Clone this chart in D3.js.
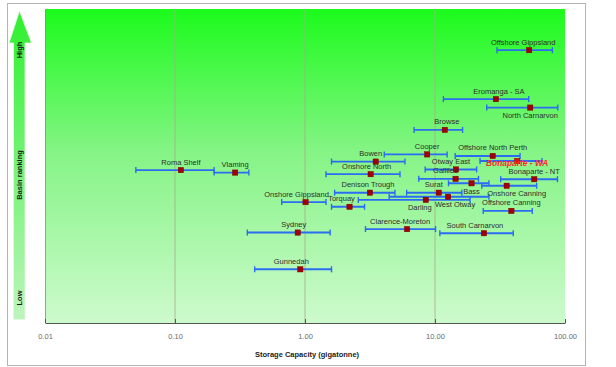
<!DOCTYPE html>
<html>
<head>
<meta charset="utf-8">
<script src="https://cdn.jsdelivr.net/npm/d3@7"></script>
<style>
  html, body { margin: 0; padding: 0; background: #fff; }
  svg { display: block; font-family: "Liberation Sans", Arial, sans-serif; }
</style>
</head>
<body>
<svg id="chart" width="616" height="367"></svg>
<script>
// Basin storage capacity estimates (gigatonnes) with low/high range, and ranking score
const basins = [
  "Offshore Gippsland", "Eromanga - SA", "North Carnarvon", "Browse", "Cooper",
  "Offshore North Perth", "Bonaparte - WA", "Bowen", "Onshore North", "Otway East",
  "Gallilee", "Bonaparte - NT", "Bass", "Onshore Canning", "Denison Trough",
  "Surat", "West Otway", "Darling", "Torquay", "Offshore Canning",
  "Onshore Gippsland", "Roma Shelf", "Vlaming", "Clarence-Moreton", "South Carnarvon",
  "Sydney", "Gunnedah"
];
const capacity = [
  53, 29.4, 54, 11.9, 8.7,
  27.8, 42.9, 3.5, 3.2, 14.5,
  14.4, 58, 19.1, 35.6, 3.16,
  10.7, 12.6, 8.5, 2.2, 38.7,
  1.01, 0.111, 0.29, 6.1, 23.8,
  0.88, 0.92
];
const capacityLow = [
  30, 11.6, 25, 6.9, 4.07,
  14.3, 22.2, 1.6, 1.45, 8.4,
  7.5, 32, 12.7, 22.9, 1.69,
  6.05, 4.44, 2.57, 1.6, 23.5,
  0.662, 0.05, 0.2, 2.92, 10.9,
  0.36, 0.41
];
const capacityHigh = [
  80, 52.6, 88, 16.3, 12.4,
  45.1, 66.5, 5.87, 5.38, 20.9,
  21.6, 87.5, 26, 60.5, 4.92,
  16.1, 26, 18.6, 2.87, 56,
  1.45, 0.2, 0.37, 10.1, 40,
  1.56, 1.6
];
const ranking = [
  86.9, 71.3, 68.6, 61.5, 53.7,
  53.2, 51.6, 51.4, 47.4, 48.9,
  45.9, 45.8, 44.5, 43.7, 41.5,
  41.5, 40.2, 39.2, 37.0, 35.7,
  38.5, 48.7, 47.9, 29.9, 28.6,
  28.8, 17.1
];
const tickValues = [0.01, 0.1, 1, 10, 100];
const tickLabels = ["0.01", "0.10", "1.00", "10.00", "100.00"];
const xTitle = "Storage Capacity (gigatonne)";
const rankLabels = ["High", "Basin ranking", "Low"];
const highlighted = "Bonaparte - WA";

const rows = basins.map((name, i) => ({
  name, value: capacity[i], low: capacityLow[i], high: capacityHigh[i], rank: ranking[i]
}));

const svg = d3.select("#chart");
const plot = { left: 45, right: 565, top: 9, bottom: 323 };

const x = d3.scaleLog().domain([0.01, 100]).range([plot.left, plot.right]);
const y = d3.scaleLinear().domain([0, 100]).range([plot.bottom, plot.top]);

const defs = svg.append("defs");
const bg = defs.append("linearGradient").attr("id", "bgGrad")
  .attr("x1", 0).attr("y1", 0).attr("x2", 0).attr("y2", 1);
bg.append("stop").attr("offset", "0%").attr("stop-color", "#1cfb1c");
bg.append("stop").attr("offset", "45%").attr("stop-color", "#84f484");
bg.append("stop").attr("offset", "100%").attr("stop-color", "#cdfacd");

const ag = defs.append("linearGradient").attr("id", "arrowGrad")
  .attr("x1", 0).attr("y1", 0).attr("x2", 0).attr("y2", 1);
ag.append("stop").attr("offset", "0%").attr("stop-color", "#2ef02e");
ag.append("stop").attr("offset", "100%").attr("stop-color", "#bdf5bd");

// outer frame
svg.append("rect").attr("x", 7.5).attr("y", 3.5).attr("width", 578).attr("height", 362)
  .attr("fill", "#fff").attr("stroke", "#b4b4b4").attr("stroke-width", 1);

// plot background
svg.append("rect")
  .attr("x", plot.left).attr("y", plot.top)
  .attr("width", plot.right - plot.left).attr("height", plot.bottom - plot.top)
  .attr("fill", "url(#bgGrad)");

// ranking arrow on the left
const ax = 19.5;
svg.append("path")
  .attr("d", `M${ax},11 L${ax + 12},43 L${ax + 5.5},43 L${ax + 5.5},319.5 L${ax - 6},319.5 L${ax - 6},43 L${ax - 10.5},43 Z`)
  .attr("fill", "url(#arrowGrad)")
  .attr("stroke", "#e8f5e8").attr("stroke-width", 0.8);

const rankPos = [50, 175, 298];
rankLabels.forEach((t, i) => {
  svg.append("text")
    .attr("transform", `translate(${ax + 2.5},${rankPos[i]}) rotate(-90)`)
    .attr("text-anchor", "middle")
    .attr("font-size", 7.5).attr("font-weight", "bold").attr("fill", "#1a1a1a")
    .text(t);
});

// vertical gridlines
svg.append("g").selectAll("line")
  .data(tickValues.slice(1, -1))
  .join("line")
  .attr("x1", d => x(d)).attr("x2", d => x(d))
  .attr("y1", plot.top).attr("y2", plot.bottom)
  .attr("stroke", "#a9a98c").attr("stroke-width", 0.8);

// left edge of plot
svg.append("line")
  .attr("x1", plot.left + 0.5).attr("x2", plot.left + 0.5)
  .attr("y1", plot.top).attr("y2", plot.bottom)
  .attr("stroke", "#8a8a8a").attr("stroke-width", 0.8);

// x axis
const xAxis = d3.axisBottom(x)
  .tickValues(tickValues)
  .tickFormat((d, i) => tickLabels[i])
  .tickSizeInner(-4).tickSizeOuter(0).tickPadding(11);
const gx = svg.append("g").attr("transform", `translate(0,${plot.bottom})`).call(xAxis);
gx.select(".domain").attr("stroke", "#555").attr("stroke-width", 1);
gx.selectAll(".tick line").attr("stroke", "#555");
gx.selectAll(".tick text")
  .attr("font-family", "Liberation Sans, Arial, sans-serif")
  .attr("font-size", 7.5).attr("fill", "#6a6a6a");

svg.append("text")
  .attr("x", (plot.left + plot.right) / 2 + 2).attr("y", 357)
  .attr("text-anchor", "middle")
  .attr("font-size", 7.5).attr("font-weight", "bold").attr("fill", "#222")
  .text(xTitle);

// error bars
const blue = "#2b6cf2";
const eb = svg.append("g").selectAll("g").data(rows).join("g");
eb.append("line")
  .attr("x1", d => x(d.low)).attr("x2", d => x(d.high))
  .attr("y1", d => y(d.rank)).attr("y2", d => y(d.rank))
  .attr("stroke", blue).attr("stroke-width", 1.9);
eb.append("line")
  .attr("x1", d => x(d.low)).attr("x2", d => x(d.low))
  .attr("y1", d => y(d.rank) - 3).attr("y2", d => y(d.rank) + 3)
  .attr("stroke", blue).attr("stroke-width", 1.4);
eb.append("line")
  .attr("x1", d => x(d.high)).attr("x2", d => x(d.high))
  .attr("y1", d => y(d.rank) - 3).attr("y2", d => y(d.rank) + 3)
  .attr("stroke", blue).attr("stroke-width", 1.4);

// point markers
svg.append("g").selectAll("rect").data(rows).join("rect")
  .attr("x", d => x(d.value) - 2.7).attr("y", d => y(d.rank) - 2.7)
  .attr("width", 5.4).attr("height", 5.4)
  .attr("fill", d => d.name === highlighted ? "#e01010" : "#a00000")
  .attr("stroke", "#7a0000").attr("stroke-width", 0.4);

// labels: most sit above their marker, a few below; small horizontal nudges avoid overlaps
const below = new Set(["North Carnarvon", "Bass", "Onshore Canning", "West Otway", "Darling"]);
const nudge = {
  "Offshore Gippsland": -6, "Eromanga - SA": 3, "Browse": 2, "Bowen": -5,
  "Onshore North": -4, "Otway East": -5, "Gallilee": -10, "Onshore Canning": 10,
  "Denison Trough": -2, "Surat": -5, "Darling": -6, "West Otway": 7,
  "Torquay": -8, "Onshore Gippsland": -9, "Clarence-Moreton": -7,
  "South Carnarvon": -9, "Sydney": -4, "Gunnedah": -9
};
svg.append("g").selectAll("text").data(rows).join("text")
  .attr("x", d => x(d.value) + (nudge[d.name] || 0))
  .attr("y", d => {
    if (d.name === highlighted) return y(d.rank) + 5;
    return below.has(d.name) ? y(d.rank) + 10.5 : y(d.rank) - 5.5;
  })
  .attr("text-anchor", "middle")
  .attr("font-size", d => d.name === highlighted ? 8.4 : 7.5)
  .attr("font-weight", d => d.name === highlighted ? "bold" : "normal")
  .attr("font-style", d => d.name === highlighted ? "italic" : "normal")
  .attr("fill", d => d.name === highlighted ? "#ff2a2a" : "#2e2e2e")
  .text(d => d.name);
</script>
</body>
</html>
